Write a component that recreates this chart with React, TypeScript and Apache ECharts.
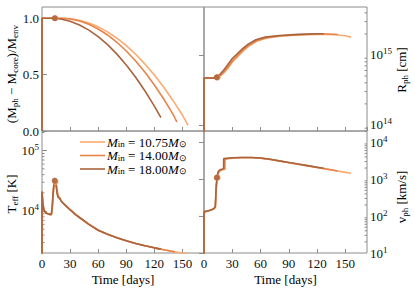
import React, { useEffect, useRef } from 'react';
import * as echarts from 'echarts';

const SERIF = 'Liberation Serif';
const GRAY = '#8c8c8c';
const INK = '#111';

const massLabels = ['10.75', '14.00', '18.00'];
const colors = ['#fdaa70', '#e8844a', '#a8643e'];
const xTicksInterval = 30;
const timeMax = 173;

// (M_ph - M_core)/M_env
const frac1075 = [[0,0],[0,1],[14,1],[22,1],[30,0.997],[40,0.983],[50,0.959],[60,0.924],[70,0.879],[80,0.823],[90,0.757],[100,0.681],[110,0.593],[120,0.496],[130,0.388],[140,0.269],[150,0.14],[156,0.05]];
const frac1400 = [[0,0],[0,1],[14,1],[20,1],[30,0.994],[40,0.976],[50,0.947],[60,0.905],[70,0.852],[80,0.787],[90,0.71],[100,0.621],[110,0.521],[120,0.408],[130,0.284],[140,0.148],[144,0.08]];
const frac1800 = [[0,0],[0,1],[9,1],[14,0.998],[20,0.993],[30,0.973],[40,0.94],[50,0.895],[60,0.837],[70,0.766],[80,0.682],[90,0.586],[100,0.477],[110,0.355],[120,0.221],[127,0.119]];

// R_ph [cm]
const rph1075 = [[0,1e13],[0,4.7e14],[10,4.7e14],[14,4.8e14],[18,5.1e14],[22,5.7e14],[26,6.6e14],[31,8.2e14],[36,9.5e14],[42,1.15e15],[48,1.35e15],[56,1.57e15],[66,1.74e15],[80,1.85e15],[100,1.93e15],[120,1.97e15],[130,1.97e15],[140,1.95e15],[150,1.88e15],[156,1.8e15]];
const rph1400 = [[0,1e13],[0,4.7e14],[10,4.7e14],[14,4.8e14],[18,5.2e14],[22,5.9e14],[26,6.9e14],[31,8.5e14],[36,9.9e14],[42,1.19e15],[48,1.39e15],[56,1.61e15],[66,1.77e15],[80,1.87e15],[100,1.95e15],[120,1.99e15],[130,1.99e15],[142,1.96e15]];
const rph1800 = [[0,1e13],[0,4.7e14],[10,4.7e14],[13,4.8e14],[17,5.3e14],[21,6.1e14],[25,7.2e14],[30,8.9e14],[35,1.03e15],[41,1.23e15],[47,1.43e15],[55,1.65e15],[65,1.8e15],[80,1.9e15],[100,1.97e15],[120,2.01e15],[127,2.01e15]];

// T_eff [K]
const teff1075 = [[0,1000],[0,2.1e4],[1,1.3e4],[2,1.05e4],[4,9.3e3],[8,8.8e3],[10,8.7e3],[11,1.1e4],[12,1.9e4],[13,2.8e4],[14,3.1e4],[15,3.0e4],[16,2.3e4],[17,1.8e4],[19,1.65e4],[21,1.45e4],[23,1.35e4],[26,1.22e4],[30,1.06e4],[35,9.1e3],[40,7.9e3],[50,6.1e3],[60,4.8e3],[70,4.1e3],[80,3.6e3],[90,3.2e3],[100,2.9e3],[110,2.65e3],[120,2.45e3],[130,2.28e3],[140,2.13e3],[150,2.01e3],[156,1.95e3]];
const teff1400 = [[0,1000],[0,2.1e4],[1,1.3e4],[2,1.05e4],[4,9.3e3],[8,8.8e3],[10,8.7e3],[11,1.15e4],[12,2.0e4],[13,2.9e4],[14,3.15e4],[15,2.9e4],[16,2.2e4],[17,1.75e4],[19,1.62e4],[21,1.43e4],[23,1.33e4],[26,1.2e4],[30,1.05e4],[35,9.0e3],[40,7.8e3],[50,6.0e3],[60,4.8e3],[70,4.1e3],[80,3.6e3],[90,3.2e3],[100,2.9e3],[110,2.65e3],[120,2.45e3],[130,2.28e3],[142,2.1e3]];
const teff1800 = [[0,1000],[0,2.1e4],[1,1.3e4],[2,1.05e4],[4,9.3e3],[8,8.8e3],[10,8.8e3],[11,1.25e4],[12,2.2e4],[13,3.1e4],[14,3.2e4],[15,2.7e4],[16,2.0e4],[17,1.7e4],[19,1.6e4],[21,1.42e4],[23,1.32e4],[26,1.19e4],[30,1.04e4],[35,8.9e3],[40,7.8e3],[50,6.0e3],[60,4.8e3],[70,4.1e3],[80,3.6e3],[90,3.2e3],[100,2.9e3],[110,2.65e3],[120,2.45e3],[127,2.33e3]];

// v_ph [km/s]
const vph1075 = [[0,1],[0,130],[5,140],[10,155],[12,170],[13,500],[14,1000],[15,1400],[17,1700],[20,1800],[22.5,1850],[22.6,3500],[25,3600],[30,3700],[40,3800],[50,3800],[60,3700],[70,3440],[80,3100],[90,2800],[100,2530],[110,2290],[120,2070],[130,1870],[140,1690],[150,1530],[156,1440]];
const vph1400 = [[0,1],[0,130],[5,140],[10,155],[12,175],[13,600],[14,1100],[15,1500],[17,1750],[20,1850],[21.5,1900],[21.6,3550],[25,3650],[30,3750],[40,3850],[50,3850],[60,3720],[70,3460],[80,3120],[90,2820],[100,2550],[110,2310],[120,2090],[130,1890],[142,1660]];
const vph1800 = [[0,1],[0,130],[5,140],[10,155],[12,180],[13,700],[14,1200],[15,1600],[17,1800],[20,1900],[20.8,1950],[20.9,3600],[25,3700],[30,3800],[40,3880],[50,3880],[60,3750],[70,3480],[80,3140],[90,2840],[100,2570],[110,2330],[120,2110],[127,1980]];

// breakout markers
const dotFrac = [[14.5,1],[14,1],[13.5,1]];
const dotRph = [[14.5,4.8e14],[14,4.8e14],[13.5,4.8e14]];
const dotTeff = [[14.5,3.0e4],[14,3.1e4],[13.5,3.2e4]];
const dotVph = [[14.5,1100],[14,1100],[13.5,1100]];

// minor log ticks
const minorRph = [9e13,2e14,3e14,4e14,5e14,6e14,7e14,8e14,9e14,2e15,3e15,4e15];
const minorTeff = [3e3,4e3,5e3,6e3,7e3,8e3,9e3,2e4,3e4,4e4,5e4,6e4,7e4,8e4,9e4,2e5];
const minorVph = [20,30,40,50,60,70,80,90,200,300,400,500,600,700,800,900,2000,3000,4000,5000,6000,7000,8000,9000,2e4];

const fracSeries = [frac1075, frac1400, frac1800];
const rphSeries = [rph1075, rph1400, rph1800];
const teffSeries = [teff1075, teff1400, teff1800];
const vphSeries = [vph1075, vph1400, vph1800];

const richBase: any = {
  n: { fontSize: 13, fontFamily: SERIF, color: INK, lineHeight: 16 },
  i: { fontSize: 13, fontFamily: SERIF, fontStyle: 'italic', color: INK, lineHeight: 16 },
  s: { fontSize: 9, fontFamily: SERIF, color: INK, lineHeight: 9, verticalAlign: 'bottom' },
  p: { fontSize: 9, fontFamily: SERIF, color: INK, lineHeight: 9, verticalAlign: 'top' },
};
const richLegend: any = {
  n: { ...richBase.n, lineHeight: 13 },
  i: { ...richBase.i, lineHeight: 13 },
  s: { ...richBase.s, lineHeight: 7 },
};

const logFmt = (v: number) => {
  const e = Math.round(Math.log10(v));
  return `{n|10}{p|${e}}`;
};

export default function App() {
  const ref = useRef<HTMLDivElement>(null);
  useEffect(() => {
    document.body.style.margin = '0';
    const chart = echarts.init(ref.current!, null, { renderer: 'svg' });
    const grids = [
      { left: 42, top: 7, width: 162, height: 124 },
      { left: 204, top: 7, width: 163, height: 124 },
      { left: 42, top: 131, width: 162, height: 122 },
      { left: 204, top: 131, width: 163, height: 122 },
    ].map((g) => ({ ...g, show: true, borderColor: GRAY, borderWidth: 1, backgroundColor: 'transparent' }));

    const xAxis = [0, 1, 2, 3].map((i) => ({
      type: 'value', gridIndex: i, min: 0, max: timeMax, interval: xTicksInterval,
      axisLine: { show: false }, splitLine: { show: false },
      axisTick: { show: true, inside: true, length: 4, lineStyle: { color: GRAY } },
      axisLabel: { show: i >= 2, showMaxLabel: false, margin: 4, fontFamily: SERIF, fontSize: 13, color: INK },
    }));

    const yCommon = (i: number, pos: string) => ({
      gridIndex: i, position: pos,
      axisLine: { show: false }, splitLine: { show: false },
      axisTick: { show: true, inside: true, length: 5, lineStyle: { color: GRAY } },
    });
    const yAxis: any[] = [
      { ...yCommon(0, 'left'), type: 'value', min: 0, max: 1.1, interval: 0.5,
        axisLabel: { showMaxLabel: false, margin: 3, fontFamily: SERIF, fontSize: 13, color: INK, formatter: (v: number) => v.toFixed(1) } },
      { ...yCommon(1, 'right'), type: 'log', logBase: 10, min: 8.2e13, max: 4.85e15,
        axisLabel: { showMaxLabel: false, showMinLabel: false, margin: 3, formatter: logFmt, rich: richBase } },
      { ...yCommon(2, 'left'), type: 'log', logBase: 10, min: 2012, max: 2.12e5,
        axisLabel: { showMaxLabel: false, showMinLabel: false, margin: 3, formatter: logFmt, rich: richBase } },
      { ...yCommon(3, 'right'), type: 'log', logBase: 10, min: 10, max: 2.02e4,
        axisLabel: { showMaxLabel: false, margin: 3, formatter: logFmt, rich: richBase } },
    ];

    const series: any[] = [];
    const panels = [fracSeries, rphSeries, teffSeries, vphSeries];
    panels.forEach((p, pi) => {
      p.forEach((d, k) => {
        series.push({
          type: 'line', name: massLabels[k], xAxisIndex: pi, yAxisIndex: pi, data: d,
          symbol: 'none', lineStyle: { color: colors[k], width: 1.6 }, itemStyle: { color: colors[k] },
          z: 2 + k,
        });
      });
    });
    const dots = [dotFrac, dotRph, dotTeff, dotVph];
    dots.forEach((d, pi) => {
      d.forEach((pt, k) => {
        series.push({
          type: 'scatter', name: 'dot' + pi + k, xAxisIndex: pi, yAxisIndex: pi, data: [pt],
          symbolSize: 6, itemStyle: { color: colors[k] }, z: 6,
        });
      });
    });
    const minorDefs: [number, number[], string][] = [[1, minorRph, 'right'], [2, minorTeff, 'left'], [3, minorVph, 'right']];
    minorDefs.forEach(([pi, vals, side]) => {
      series.push({
        type: 'custom', name: 'minor' + pi, xAxisIndex: pi, yAxisIndex: pi,
        data: vals.map((v) => [0, v]), silent: true, z: 1,
        renderItem: (params: any, api: any) => {
          const cs = params.coordSys;
          const y = api.coord([0, api.value(1)])[1];
          const x0 = side === 'left' ? cs.x : cs.x + cs.width;
          const x1 = side === 'left' ? cs.x + 2.5 : cs.x + cs.width - 2.5;
          return { type: 'line', shape: { x1: x0, y1: y, x2: x1, y2: y }, style: { stroke: GRAY, lineWidth: 1 } };
        },
      });
    });

    const txt = (x: number, y: number, text: string, rot = 0, align = 'center', rich = richBase) => ({
      type: 'text', x, y, rotation: rot,
      style: { text, rich, align, verticalAlign: 'middle', fontFamily: SERIF, fontSize: 13 },
    });

    const legendY = [142, 155.5, 169];
    const legendGraphics: any[] = [];
    massLabels.forEach((m, k) => {
      legendGraphics.push({ type: 'line', shape: { x1: 80, y1: legendY[k], x2: 105, y2: legendY[k] }, style: { stroke: colors[k], lineWidth: 1.6 } });
      legendGraphics.push(txt(107, legendY[k], `{i|M}{s|in}{n| = ${m}}{i|M}{s|⊙}`, 0, 'left', richLegend));
    });

    chart.setOption({
      animation: false,
      grid: grids,
      xAxis, yAxis, series,
      graphic: [
        txt(11, 74, '{n|(M}{s|ph}{n| − M}{s|core}{n|)/M}{s|env}', Math.PI / 2),
        txt(401, 70, '{n|R}{s|ph}{n| [cm]}', Math.PI / 2),
        txt(11, 194, '{n|T}{s|eff}{n| [K]}', Math.PI / 2),
        txt(401, 197, '{n|v}{s|ph}{n| [km/s]}', Math.PI / 2),
        txt(123, 279, '{n|Time [days]}'),
        txt(285.5, 279, '{n|Time [days]}'),
        ...legendGraphics,
      ],
    });
    return () => chart.dispose();
  }, []);
  return <div ref={ref} style={{ width: 415, height: 289 }} />;
}
